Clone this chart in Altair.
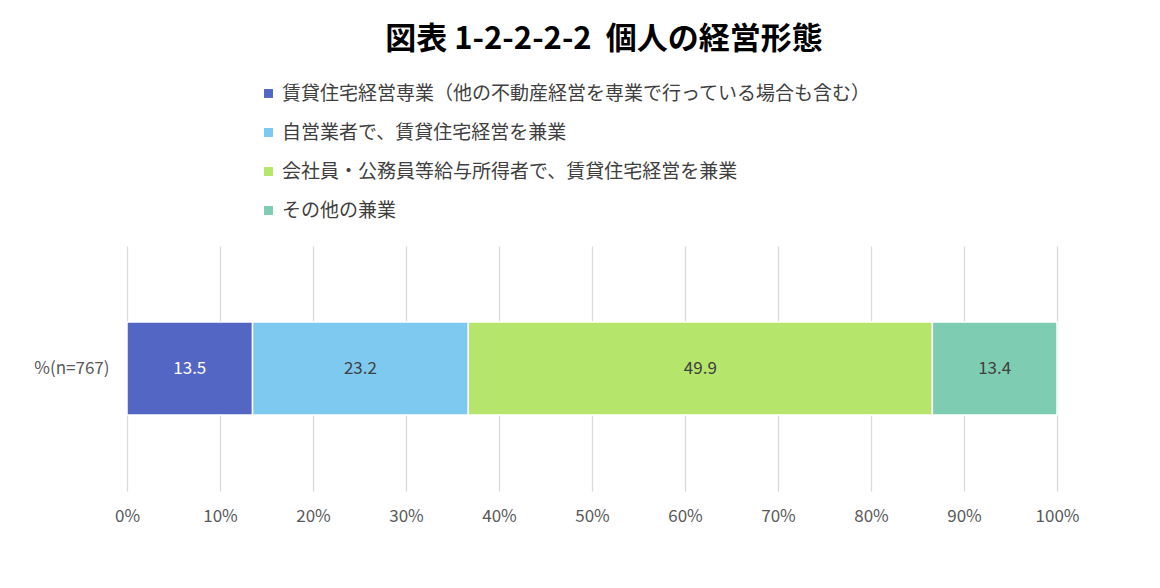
import altair as alt
import pandas as pd

# data
categories = [
    "賃貸住宅経営専業（他の不動産経営を専業で行っている場合も含む）",
    "自営業者で、賃貸住宅経営を兼業",
    "会社員・公務員等給与所得者で、賃貸住宅経営を兼業",
    "その他の兼業",
]
shares = [13.5, 23.2, 49.9, 13.4]
row_label = "%(n=767)"
colors = ["#5366C4", "#7DC9EF", "#B5E66B", "#7ECDB2"]
label_colors = ["#FFFFFF", "#404040", "#404040", "#404040"]

df = pd.DataFrame({
    "row": [row_label] * len(categories),
    "category": categories,
    "value": shares,
    "order": list(range(len(categories))),
    "label_color": label_colors,
})

font = "Noto Sans CJK JP"

base = alt.Chart(df).transform_stack(
    stack="value", groupby=["row"], sort=[alt.SortField("order")], as_=["v0", "v1"]
).transform_calculate(mid="(datum.v0 + datum.v1) / 2")

bars = base.mark_bar(size=93, stroke="white", strokeWidth=1.5).encode(
    x=alt.X("v0:Q", scale=alt.Scale(domain=[0, 100]),
            axis=alt.Axis(values=list(range(0, 101, 10)), labelExpr="datum.value + '%'",
                          title=None, grid=True, gridColor="#D9D9D9", gridWidth=1.3,
                          domain=False, ticks=False, labelPadding=17, labelFlush=False,
                          labelFontSize=17, labelColor="#595959", labelFont=font)),
    x2="v1:Q",
    y=alt.Y("row:N", axis=alt.Axis(title=None, domain=False, ticks=False, labelPadding=18,
                                   labelFontSize=17, labelColor="#595959", labelFont=font)),
    color=alt.Color("category:N", sort=categories,
                    scale=alt.Scale(domain=categories, range=colors),
                    legend=alt.Legend(title=None, orient="none", legendX=132, legendY=-162,
                                      direction="vertical", symbolType="square", symbolSize=80,
                                      symbolStrokeWidth=0, labelFont=font, labelFontSize=19,
                                      labelColor="#404040", rowPadding=19, labelOffset=4,
                                      labelLimit=900)),
    order=alt.Order("order:Q"),
)

labels = base.mark_text(font=font, fontSize=17).encode(
    x="mid:Q",
    y="row:N",
    text=alt.Text("value:Q", format=".1f"),
    color=alt.Color("label_color:N", scale=None),
)

chart = (bars + labels).properties(
    width=930,
    height=245,
    title=alt.TitleParams("図表 1-2-2-2-2\u00a0\u00a0個人の経営形態", font=font, fontSize=31,
                          fontWeight="bold", color="#000000", offset=28, dx=12),
    padding={"left": 25, "top": 16, "right": 20, "bottom": 10},
).configure_view(stroke=None)

chart.save("out.html", embed_options={"renderer": "svg", "actions": False})
